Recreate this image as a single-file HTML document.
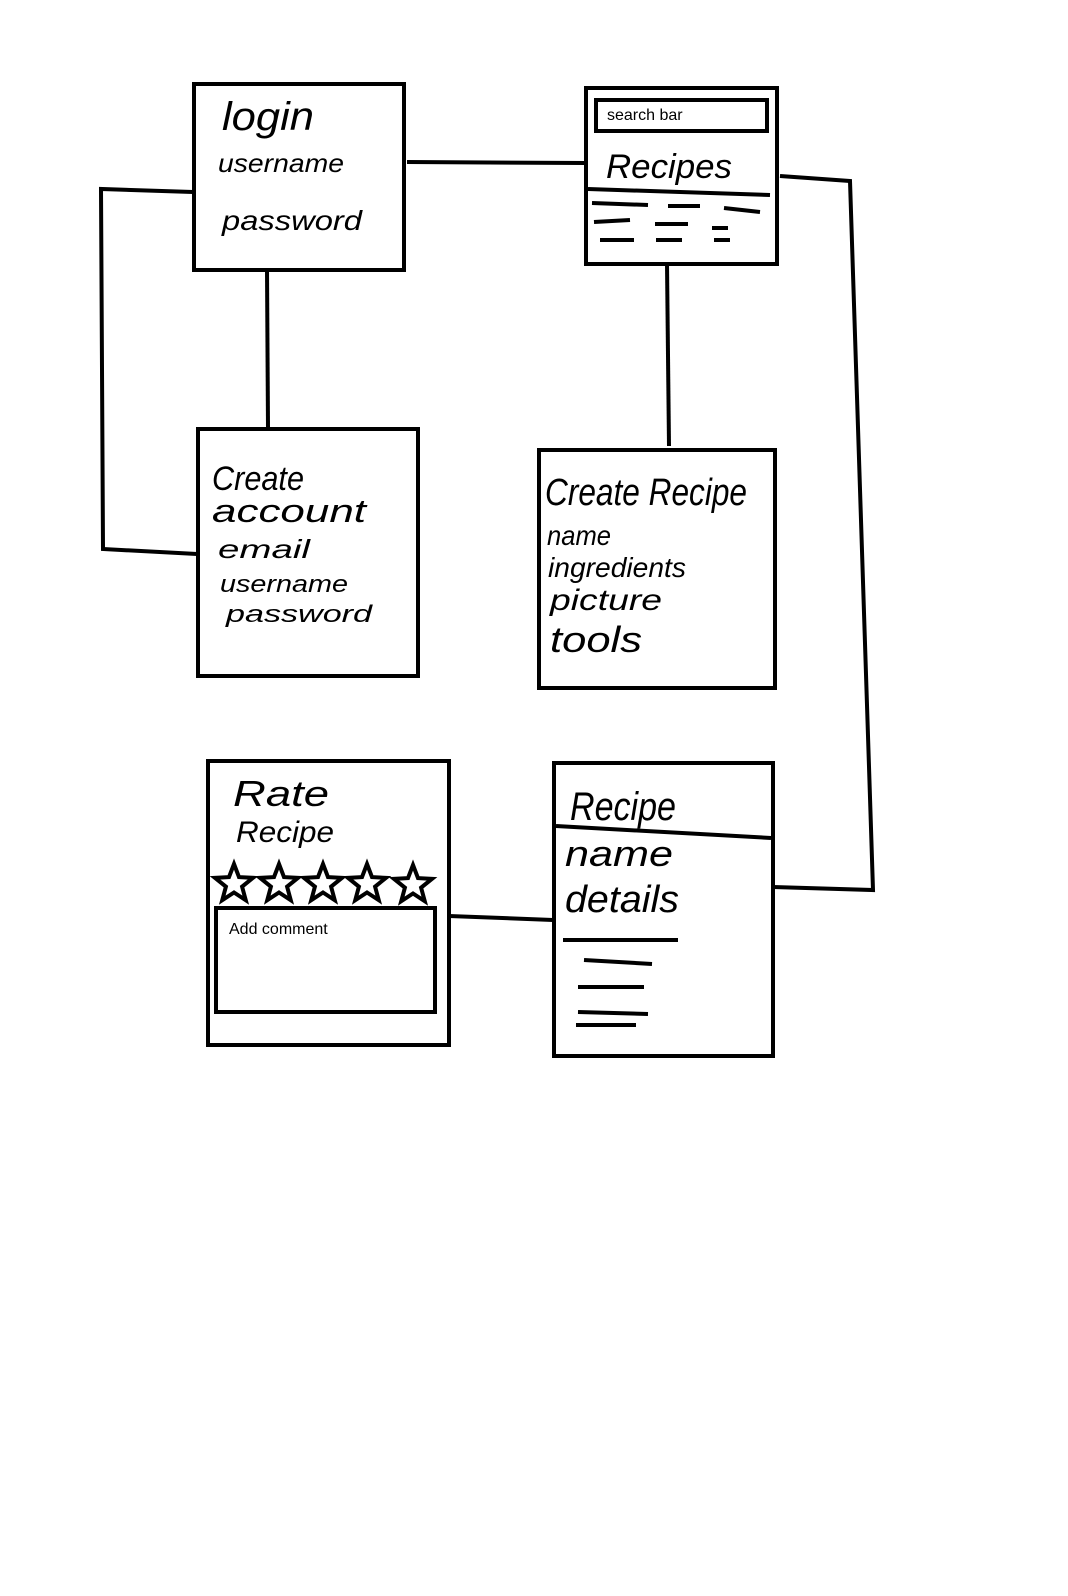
<!DOCTYPE html>
<html><head><meta charset="utf-8"><style>
html,body{margin:0;padding:0;background:#fff;}
svg{display:block;}
.h{font-family:"Liberation Sans",sans-serif;fill:#000;}
</style></head><body>
<svg width="1068" height="1596" viewBox="0 0 1068 1596" xmlns="http://www.w3.org/2000/svg">
<defs>
<polygon id="st" points="0,-20 5,-6.88 19.02,-6.18 8.08,2.63 11.76,16.18 0,8.5 -11.76,16.18 -8.08,2.63 -19.02,-6.18 -5,-6.88" fill="#fff" stroke="#000" stroke-width="4" stroke-linejoin="miter"/>
</defs>
<g fill="none" stroke="#000" stroke-width="4">
<rect x="194" y="84" width="210" height="186"/>
<rect x="586" y="88" width="191" height="176"/>
<rect x="596" y="100" width="171" height="31"/>
<rect x="198" y="429" width="220" height="247"/>
<rect x="539" y="450" width="236" height="238"/>
<rect x="208" y="761" width="241" height="284"/>
<rect x="216" y="908" width="219" height="104"/>
<rect x="554" y="763" width="219" height="293"/>
<polyline points="407,162 585,163"/>
<polyline points="193,192 101,189 103,549 197,554"/>
<polyline points="267,270 268,428"/>
<polyline points="667,264 669,446"/>
<polyline points="780,176 850,181 873,890 773,887"/>
<polyline points="449,916 553,920"/>
<polyline points="588,189 770,195"/>
<polyline points="592,203 648,205"/>
<polyline points="668,206 700,206"/>
<polyline points="724,208 760,212"/>
<polyline points="594,222 630,220"/>
<polyline points="655,224 688,224"/>
<polyline points="712,228 728,228"/>
<polyline points="600,240 634,240"/>
<polyline points="656,240 682,240"/>
<polyline points="714,240 730,240"/>
<polyline points="556,826 771,838"/>
<polyline points="563,940 678,940"/>
<polyline points="584,960 652,964"/>
<polyline points="578,987 644,987"/>
<polyline points="578,1012 648,1014"/>
<polyline points="576,1025 636,1025"/>
</g>
<use href="#st" x="234" y="884"/>
<use href="#st" x="279" y="884"/>
<use href="#st" x="323" y="884"/>
<use href="#st" x="367" y="884"/>
<use href="#st" x="413" y="885"/>
<text class="h" x="222" y="130" font-size="40" font-style="italic" textLength="92" lengthAdjust="spacingAndGlyphs">login</text>
<text class="h" x="218" y="172" font-size="26" font-style="italic" textLength="126" lengthAdjust="spacingAndGlyphs">username</text>
<text class="h" x="222" y="230" font-size="28" font-style="italic" textLength="140" lengthAdjust="spacingAndGlyphs">password</text>
<text class="h" x="607" y="120" font-size="16">search bar</text>
<text class="h" x="606" y="178" font-size="34" font-style="italic" textLength="126" lengthAdjust="spacingAndGlyphs">Recipes</text>
<text class="h" x="212" y="490" font-size="34" font-style="italic" textLength="92" lengthAdjust="spacingAndGlyphs">Create</text>
<text class="h" x="212" y="522" font-size="32" font-style="italic" textLength="154" lengthAdjust="spacingAndGlyphs">account</text>
<text class="h" x="218" y="558" font-size="26" font-style="italic" textLength="92" lengthAdjust="spacingAndGlyphs">email</text>
<text class="h" x="220" y="592" font-size="24" font-style="italic" textLength="128" lengthAdjust="spacingAndGlyphs">username</text>
<text class="h" x="226" y="622" font-size="24" font-style="italic" textLength="146" lengthAdjust="spacingAndGlyphs">password</text>
<text class="h" x="545" y="505" font-size="38" font-style="italic" textLength="202" lengthAdjust="spacingAndGlyphs">Create Recipe</text>
<text class="h" x="547" y="545" font-size="28" font-style="italic" textLength="64" lengthAdjust="spacingAndGlyphs">name</text>
<text class="h" x="548" y="577" font-size="28" font-style="italic" textLength="138" lengthAdjust="spacingAndGlyphs">ingredients</text>
<text class="h" x="550" y="610" font-size="30" font-style="italic" textLength="112" lengthAdjust="spacingAndGlyphs">picture</text>
<text class="h" x="550" y="652" font-size="36" font-style="italic" textLength="92" lengthAdjust="spacingAndGlyphs">tools</text>
<text class="h" x="233" y="806" font-size="36" font-style="italic" textLength="96" lengthAdjust="spacingAndGlyphs">Rate</text>
<text class="h" x="236" y="842" font-size="30" font-style="italic" textLength="98" lengthAdjust="spacingAndGlyphs">Recipe</text>
<text class="h" x="229" y="934" font-size="16">Add comment</text>
<text class="h" x="570" y="820" font-size="40" font-style="italic" textLength="106" lengthAdjust="spacingAndGlyphs">Recipe</text>
<text class="h" x="565" y="866" font-size="36" font-style="italic" textLength="108" lengthAdjust="spacingAndGlyphs">name</text>
<text class="h" x="565" y="912" font-size="38" font-style="italic" textLength="114" lengthAdjust="spacingAndGlyphs">details</text>
</svg>
</body></html>
